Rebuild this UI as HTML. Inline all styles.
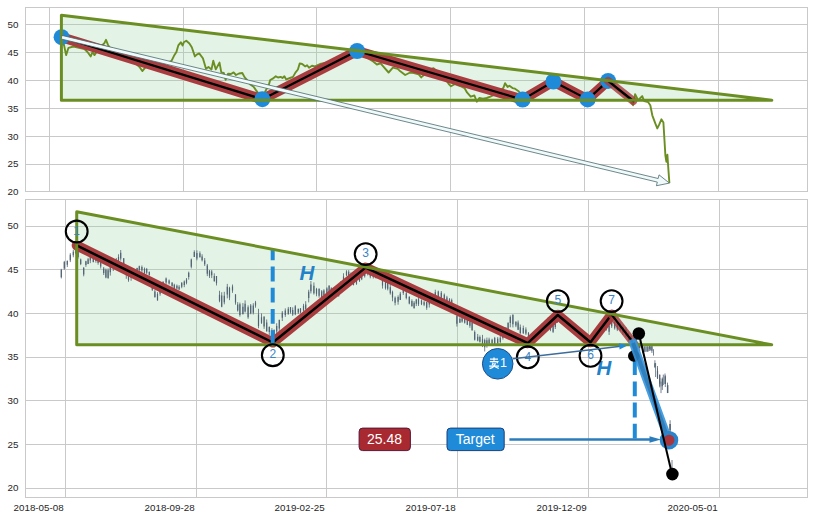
<!DOCTYPE html><html><head><meta charset="utf-8"><style>html,body{margin:0;padding:0;background:#fff;width:813px;height:520px;overflow:hidden}svg{display:block}</style></head><body>
<svg width="813" height="520" viewBox="0 0 813 520" font-family='"Liberation Sans", sans-serif'>
<rect width="813" height="520" fill="#fff"/>
<path d="M25.5 164.5H807.5M25.5 136.5H807.5M25.5 108.5H807.5M25.5 80.5H807.5M25.5 52.5H807.5M25.5 24.5H807.5M49.5 7.5V191.5M183.5 7.5V191.5M316.5 7.5V191.5M450.5 7.5V191.5M584.5 7.5V191.5M718.5 7.5V191.5" stroke="#c9c9c9" stroke-width="1" fill="none"/>
<rect x="25.5" y="7.5" width="782" height="184" fill="none" stroke="#c9c9c9" stroke-width="1"/>
<text x="18.5" y="191.8" font-size="9.8" fill="#262626" text-anchor="end" dominant-baseline="central">20</text>
<text x="18.5" y="163.97" font-size="9.8" fill="#262626" text-anchor="end" dominant-baseline="central">25</text>
<text x="18.5" y="136.13" font-size="9.8" fill="#262626" text-anchor="end" dominant-baseline="central">30</text>
<text x="18.5" y="108.3" font-size="9.8" fill="#262626" text-anchor="end" dominant-baseline="central">35</text>
<text x="18.5" y="80.47" font-size="9.8" fill="#262626" text-anchor="end" dominant-baseline="central">40</text>
<text x="18.5" y="52.63" font-size="9.8" fill="#262626" text-anchor="end" dominant-baseline="central">45</text>
<text x="18.5" y="24.8" font-size="9.8" fill="#262626" text-anchor="end" dominant-baseline="central">50</text>
<polygon points="61.4,15.3 771.8,100.2 61.4,100.2" fill="rgba(150,212,160,0.27)" stroke="none"/>
<polyline points="61.6,37.2 64.2,45.9 66.1,55.1 68.5,47.8 73.5,46.5 78,47.5 84.5,49 87.5,52 90.7,56.4 92.5,52 94.4,55.1 98,50 101,46 104.2,43.5 106,39.8 107.9,44.7 112,51 116,53 120,55 125,57 130,60 135,63 139.9,67.4 142.3,71.1 145.4,67.4 150,66 155,65 160,66 165,64 171.5,60.8 174,55.8 176.4,52.1 178.3,45.4 180.8,42.3 182.6,45.4 183.8,42.3 186.3,40.8 189.4,43.5 191.8,47.2 194.9,56.4 196.7,54.6 199.2,53.4 202.9,58.3 206,68.7 208.5,67 211.5,69.4 213.3,60.8 215.8,69.4 219.5,62.6 221.3,72.4 223.8,73 225.6,79.8 228.1,73.7 231,74 233.6,72.4 236,75 239,73.5 242.3,73 244.7,77.4 247,80 249.9,84.3 253.6,86.7 256.1,90.4 259,94 262,97 265,92 269,84.3 270.2,80 272.7,78.7 275.8,76.3 278,77.5 280.7,76.9 282.5,78 284.4,76.3 286.2,79.4 290,78 293,76.9 295.4,72.6 297.9,69.5 299.7,63.4 302.2,64 305.3,66.4 307.1,65.2 309,67.7 312,65.8 315,66.4 320,64 325,63 330,62 335,60 340,58 345,56 350,54 355,52 360,54 365,57 369,59 373.2,61.4 376.9,64.5 380.6,63.3 384.3,67.6 388.6,72.5 392.9,67.6 397.8,68.8 400.3,71.3 405.2,75 410.1,72.5 414,73 418.7,74.4 421.2,77.4 425,74 429,70 433.5,68.2 438,72 442,76 446,80 449.1,84.4 451,86.3 455,84 460,86 464.5,88.1 467,92.4 470.7,96.7 474.4,95.5 476.8,101.7 479.3,98 483,98.6 486.7,98 490.4,96.7 494,95 498,92 503.3,88.1 505.1,83.2 507.6,86.9 509.4,85.7 512.5,88.1 515,88.7 518.6,91.2 522,96 526,95 530,92 535,90 540,88 545,86 550,84 553,82 557,84 562,88 567,91 572,94 577,96 582,98 587,99 592,96 597,92 602,88 606,84 609,82 613,86 618,90 623,94 628,98 631,102 633.1,105.2 635.1,94.1 638.1,100.2 642.2,96.1 644.2,101.2 648.2,102.2 650.3,105.2 652.3,115.3 655.3,123.4 657.3,128.4 659.3,124.4 661.4,119.3 663.4,122.4 665.4,155.7 666.4,161.8 667.4,154.7 668.4,169.8 669.4,183" fill="none" stroke="#6b8e23" stroke-width="1.9" stroke-linejoin="round"/>
<polyline points="61.6,37.2 262.4,99.2 357.1,51 522.6,99.6 553.4,81.5 587.6,99.4 608.1,80.9" fill="none" stroke="#a93c3f" stroke-width="10" stroke-linejoin="round" stroke-linecap="round"/>
<polyline points="61.6,37.2 262.4,99.2 357.1,51 522.6,99.6 553.4,81.5 587.6,99.4 608.1,80.9" fill="none" stroke="#000" stroke-width="2.2" stroke-linejoin="round" stroke-linecap="round"/>
<circle cx="61.6" cy="37.2" r="8" fill="#1f8bd8"/>
<circle cx="262.4" cy="99.2" r="8" fill="#1f8bd8"/>
<circle cx="357.1" cy="51" r="8" fill="#1f8bd8"/>
<circle cx="522.6" cy="99.6" r="8" fill="#1f8bd8"/>
<circle cx="553.4" cy="81.5" r="8" fill="#1f8bd8"/>
<circle cx="587.6" cy="99.4" r="8" fill="#1f8bd8"/>
<circle cx="608.1" cy="80.9" r="8" fill="#1f8bd8"/>
<line x1="608.1" y1="80.9" x2="633.3" y2="101" stroke="#a93c3f" stroke-opacity="0.82" stroke-width="8" stroke-linecap="round"/>
<line x1="608.1" y1="80.9" x2="633.3" y2="101" stroke="#000" stroke-width="2.4" stroke-linecap="round"/>
<polygon points="61.4,15.3 771.8,100.2 61.4,100.2" fill="none" stroke="#6b8e23" stroke-width="3" stroke-linejoin="round"/>
<polygon points="61.17,39 657.3,182.1 656.42,185.74 669.4,183.1 659.04,174.85 658.16,178.5 62.03,35.4" fill="#f0fafa" stroke="#4a6a6e" stroke-width="0.8" stroke-linejoin="miter"/>
<path d="M25.5 488.5H807.5M25.5 444.5H807.5M25.5 400.5H807.5M25.5 357.5H807.5M25.5 313.5H807.5M25.5 269.5H807.5M25.5 226.5H807.5M65.5 199.5V497.5M196.5 199.5V497.5M326.5 199.5V497.5M457.5 199.5V497.5M588.5 199.5V497.5M719.5 199.5V497.5" stroke="#c9c9c9" stroke-width="1" fill="none"/>
<rect x="25.5" y="199.5" width="782" height="298" fill="none" stroke="#c9c9c9" stroke-width="1"/>
<text x="18.5" y="487.8" font-size="9.8" fill="#262626" text-anchor="end" dominant-baseline="central">20</text>
<text x="18.5" y="444.1" font-size="9.8" fill="#262626" text-anchor="end" dominant-baseline="central">25</text>
<text x="18.5" y="400.4" font-size="9.8" fill="#262626" text-anchor="end" dominant-baseline="central">30</text>
<text x="18.5" y="356.7" font-size="9.8" fill="#262626" text-anchor="end" dominant-baseline="central">35</text>
<text x="18.5" y="313" font-size="9.8" fill="#262626" text-anchor="end" dominant-baseline="central">40</text>
<text x="18.5" y="269.3" font-size="9.8" fill="#262626" text-anchor="end" dominant-baseline="central">45</text>
<text x="18.5" y="225.6" font-size="9.8" fill="#262626" text-anchor="end" dominant-baseline="central">50</text>
<text x="63.7" y="507.6" font-size="9.8" fill="#262626" text-anchor="end" dominant-baseline="central">2018-05-08</text>
<text x="194.7" y="507.6" font-size="9.8" fill="#262626" text-anchor="end" dominant-baseline="central">2018-09-28</text>
<text x="324.7" y="507.6" font-size="9.8" fill="#262626" text-anchor="end" dominant-baseline="central">2019-02-25</text>
<text x="455.7" y="507.6" font-size="9.8" fill="#262626" text-anchor="end" dominant-baseline="central">2019-07-18</text>
<text x="586.7" y="507.6" font-size="9.8" fill="#262626" text-anchor="end" dominant-baseline="central">2019-12-09</text>
<text x="717.7" y="507.6" font-size="9.8" fill="#262626" text-anchor="end" dominant-baseline="central">2020-05-01</text>
<polygon points="76.7,211.7 771.7,344.8 76.7,344.8" fill="rgba(150,212,160,0.27)" stroke="none"/>
<path d="M61.3 268.86V278.45M64.3 260.86V269.75M67.3 260.39V267.09M70.3 253.16V262.1M73.3 249.76V257.28M75.5 243.16V253.87M78.1 246.49V258.63M80.7 258.59V265.11M83.7 266.99V276.33M85.9 260.79V266.85M88.1 257.82V264.11M90.3 254.37V263.13M93.3 256.2V262.42M95.9 257.4V262.7M98.1 258.65V264.72M100.7 261.62V268.52M103.7 266.98V274.99M105.9 268.51V278.27M108.1 268.41V278.82M110.3 266.26V275.59M113.3 262.07V271.01M116.3 257.96V265.37M118.5 254.3V263.66M120.7 250.01V260.67M123.7 258.08V270.14M126.3 268.08V278.75M128.5 273.11V281.79M131.1 271.65V280.8M134.1 270.63V277.94M137.1 267.76V275.3M139.3 265.67V273M141.9 265.46V272.46M144.5 267.54V273.92M146.7 267.98V274.08M149.3 271.42V275.74M152.3 286.56V290.95M154.9 289.78V297.78M157.5 292.17V300.48M160.1 289.8V295.75M163.1 281.37V288.99M166.1 277.46V284.27M169.1 279.49V284.51M172.1 282.05V286.9M174.3 283.74V289.09M176.9 284.53V289.27M179.1 285.16V289.99M181.7 282.27V288.2M184.3 280.46V287.16M186.5 278.03V284.35M188.7 271.63V279.62M191.3 258.6V268.39M194.3 250.33V256.88M196.9 250.36V260.32M199.9 251.33V257.82M202.1 254.24V261.43M204.7 258.02V266M207.3 263.98V276.14M209.5 269.97V277.94M211.7 269.95V278.08M214.3 273.35V281.57M216.5 276.07V285.47M219.5 290.76V302.25M221.7 292.25V307.26M224.3 291.84V304.3M227.3 283.9V298.37M229.5 286.76V300.14M232.5 284.5V292.87M235.5 294.16V304.7M237.7 302.13V311.58M239.9 302.6V316.66M242.9 303.08V314.63M245.1 300.38V312.48M248.1 305.36V318.81M250.7 304V314.28M253.3 303.22V314.44M255.5 300.88V307.68M258.5 308.81V328.28M261.5 313.41V323.9M264.1 316.18V328.86M266.7 319.48V331.28M269.3 326.41V334.9M271.9 328.13V340.26M274.1 329.35V339.3M276.7 323.22V334.19M279.3 319.94V331.68M282.3 311.05V321.01M285.3 308.35V316.89M288.3 306.94V314.53M290.5 307.06V313.66M292.7 307.39V315.92M295.3 305.08V315.17M298.3 308.71V314.03M300.5 308.07V313.38M303.5 303.83V311.56M305.7 301.18V310.75M308.7 289.76V302.37M310.9 280.98V293.46M313.9 282.44V294.6M316.5 287.89V296.27M319.1 288.44V297.7M321.7 290.06V297.97M323.9 289.19V295.43M326.9 287.3V296.08M329.1 285.18V294.17M331.3 287.22V296.43M333.9 288.72V297.91M336.5 289.47V296.98M338.7 288.05V296.77M340.9 281V292.45M343.5 273.28V282.14M346.5 270.19V276.27M348.7 270.14V277.84M350.9 272.49V280.97M353.5 276.01V285.44M356.5 278.19V284.83M359.5 273.71V282.03M361.7 272.11V280.13M364.7 270.12V277.59M367.7 266.8V275.45M370.3 268.8V278.3M373.3 270.14V278.54M375.9 270.09V278.08M378.1 267.85V275.24M380.3 269.44V276.53M382.5 277.67V288.55M385.5 281.46V289.62M387.7 281V290.39M390.3 284.31V294.64M392.5 290.67V301.25M395.1 296.4V305.37M398.1 295.37V304.7M400.3 291.93V299.75M403.3 287.71V294.91M406.3 290.74V299.38M409.3 296.13V304.32M411.9 299.32V306.49M414.1 301.14V308.48M416.3 298.87V306.05M418.5 297.21V305.97M421.5 299.41V305.11M424.1 300.6V306.13M426.7 302.04V309.83M429.3 298.38V307.53M432.3 293.92V301.94M435.3 289.71V297.93M438.3 290.65V300.07M441.3 291.01V299.62M444.3 293.48V301.17M446.9 295.86V303.6M449.5 298.09V305.25M451.7 298.57V305.06M453.9 304.33V314.07M456.9 314.51V326.56M459.9 317.16V322.81M462.1 315.74V322.67M464.7 317.68V323.57M467.3 318.54V325.08M469.9 318.98V327.81M472.1 320.25V330.68M474.7 330.37V340.47M477.7 333.99V341.32M479.9 335.45V342.58M482.5 334.88V347.05M484.7 338.59V351.46M486.9 337.59V347.66M489.1 337.7V344.73M492.1 338.72V345.99M494.7 336.9V345.12M497.7 337.14V343.52M500.3 334.58V343.41M502.9 329.64V339.67M505.9 327.47V334.81M508.1 322.18V330.99M510.3 315.38V327.26M512.9 314.42V327.41M515.9 321.36V327.15M518.1 320.46V330.12M520.3 324.53V333.78M523.3 325.64V333.84M525.9 327.32V334.88M528.5 332.12V340.86M531.1 334.45V342.69M534.1 332.61V340.7M536.7 329.93V339.3M539.3 326.75V334.89M542.3 323.28V332.73M545.3 320.24V328.89M548.3 317.1V325.53M550.5 323.25V331.17M553.1 322.65V332.95M555.3 319.95V329M557.5 314.71V322.94M559.7 313.78V320.78M561.9 313.51V323.12M564.1 315.78V325.39M566.7 318.27V327.57M568.9 320.1V329.01M571.5 321.97V330.33M574.1 324.44V334.06M577.1 327.47V336.18M579.3 329.56V337.11M582.3 332.13V339.68M584.5 334.32V341.67M587.1 334.11V344.08M589.3 336.13V345.43M592.3 336V344.75M594.9 333.33V340.64M597.5 328.47V337.26M600.5 325.69V334.09M603.5 320.15V329.55M606.5 320.08V330.53M609.1 323.46V334.94M611.7 319.9V327.98M614.7 321.39V329.6M617.3 320.99V331.06M620.3 322.51V331.28M622.9 325.28V335M625.9 327.21V337.21M628.5 332.75V340.71M631.1 335.45V344.32M634.1 340.33V348.41M636.7 342.9V352.26M639.7 342.78V350.99M642.7 344.52V353.32M644.9 344.01V352.11M647.1 345.61V352.03M649.7 344.91V350.99M651.9 345.76V352.91M654.9 360.25V368.13M657.5 368.37V378.68M659.7 374.51V387.35M662.3 377.48V389.97M665.3 375.3V387.03M667.5 382.63V393.05M670.1 420.21V432.21M648.3 346.4V351.5M650.6 346.4V350.4M653.5 349.2V355.6M655.6 363V377M657.5 366V379M659.8 378V386.2M661 381.6V393.1M663.3 374.6V385M665 373.5V383.9M667.9 385V393.1M670 424V433M672 460V470" stroke="#506273" stroke-width="0.8" fill="none"/>
<path d="M61.3 269.85V277.27M64.3 261.99V268.49M67.3 261.06V264.78M70.3 254.87V260.13M73.3 251.87V255.29M75.5 245.88V252.94M78.1 249.24V256.9M80.7 259.45V263.88M83.7 267.89V274.4M85.9 261.14V265.07M88.1 259.15V264.09M90.3 256.37V260.47M93.3 257.74V261.91M95.9 258.7V261.12M98.1 260.24V263M100.7 262.34V266.53M103.7 268.39V273.07M105.9 269.8V277.52M108.1 270.16V277.95M110.3 266.73V272.37M113.3 263.31V267.57M116.3 259.79V264.08M118.5 256.97V263.06M120.7 252.87V258.52M123.7 258.31V267.71M126.3 268.96V275.33M128.5 274.09V280.24M131.1 272.81V277.87M134.1 272.36V276.88M137.1 267.96V273.77M139.3 266.37V270.3M141.9 266.93V270.41M144.5 268.69V273.1M146.7 268.89V272.65M149.3 272.1V275.01M152.3 287.65V289.73M154.9 291.44V297.1M157.5 294.07V300.43M160.1 290.05V293.77M163.1 281.69V286.75M166.1 278.49V282.55M169.1 280.53V283.6M172.1 282.85V286.05M174.3 284.74V288.61M176.9 285.84V288.47M179.1 286.82V289.58M181.7 282.67V286.72M184.3 281.49V284.98M186.5 279.61V282.76M188.7 272.65V277.01M191.3 259.52V266.78M194.3 252.12V256.99M196.9 252.94V258.39M199.9 253.33V256.96M202.1 256.56V260.27M204.7 260.46V264.18M207.3 265.48V273.68M209.5 270.73V275.64M211.7 271.46V275.23M214.3 276.11V281.26M216.5 276V283.21M219.5 294.86V300.82M221.7 295.41V306.78M224.3 295.65V302.15M227.3 286.79V294.53M229.5 287.87V297.6M232.5 286.53V290.54M235.5 294.47V302.61M237.7 304.38V310.39M239.9 304.33V315.09M242.9 306.82V314.01M245.1 303.73V311.54M248.1 307.31V317.34M250.7 305.59V313.35M253.3 305.52V312.63M255.5 302.49V305.56M258.5 314.56V326.05M261.5 317.34V322.68M264.1 316.74V326.54M266.7 322.41V331.44M269.3 326.92V331.99M271.9 330.3V335.86M274.1 330.07V337.06M276.7 326.04V331.44M279.3 319.69V328.58M282.3 312.63V317.67M285.3 310.49V314.97M288.3 308.75V314.14M290.5 307.25V312.35M292.7 309.96V314.51M295.3 306.33V314.19M298.3 308.76V312.43M300.5 308.55V312.46M303.5 305.71V310.54M305.7 304.52V308.91M308.7 291.71V298.03M310.9 284.44V291.29M313.9 285.76V293.2M316.5 288.95V293.76M319.1 288.73V295.64M321.7 291.21V297.32M323.9 290.49V295.26M326.9 288.45V295.29M329.1 285.73V292.31M331.3 288.18V294.95M333.9 290.75V297.35M336.5 290.04V295.51M338.7 289.8V295.67M340.9 282.57V288.93M343.5 276.44V281.64M346.5 271.58V275.15M348.7 271.68V275.84M350.9 274.19V278.04M353.5 279.09V285M356.5 279.79V283.81M359.5 277.01V280.88M361.7 273.21V279.23M364.7 271.69V276.15M367.7 267.85V273.21M370.3 272.14V276.51M373.3 271.06V277.06M375.9 271.97V278.34M378.1 268.4V273.59M380.3 271.26V276.46M382.5 278.26V285.45M385.5 282.13V288.26M387.7 282.36V288.78M390.3 287.25V293.21M392.5 291.91V297.56M395.1 297.69V302.85M398.1 297.01V301.83M400.3 293.71V299.92M403.3 289.19V293.11M406.3 293.36V298.09M409.3 296.94V303.43M411.9 301.09V306.18M414.1 302.85V308.27M416.3 299.6V303.81M418.5 299.25V304.19M421.5 300.46V304.34M424.1 302.14V304.79M426.7 301.92V307.67M429.3 300.23V304.61M432.3 294.21V300.3M435.3 292.32V296.36M438.3 291.48V297.99M441.3 292.64V297.47M444.3 294.79V299.23M446.9 297.46V303.1M449.5 299.15V304.47M451.7 299.99V304.85M453.9 307.4V313.72M456.9 315.9V323.77M459.9 318.66V322.66M462.1 318.18V321.54M464.7 318.55V322.77M467.3 319.57V324.73M469.9 321.61V325.81M472.1 323.01V330.13M474.7 331.88V339.81M477.7 336.8V340.38M479.9 337.01V341.81M482.5 339.32V346.04M484.7 340.12V347.27M486.9 340.27V344.86M489.1 339.38V343.42M492.1 339.74V343.59M494.7 338.12V344.52M497.7 338.7V343.55M500.3 337.83V342.08M502.9 330.65V337.97M505.9 327.5V332.83M508.1 323.08V329.83M510.3 317.1V323.1M512.9 314.71V324.24M515.9 321.8V325.49M518.1 322.62V329.83M520.3 327.3V333.17M523.3 327.93V333.31M525.9 329.56V333.47M528.5 332.82V338.36M531.1 337.14V342.45M534.1 332.91V338.49M536.7 330.16V336.95M539.3 327.34V333.03M542.3 325.44V332.52M545.3 321.85V326.63M548.3 318.45V324.46M550.5 324.01V329.6M553.1 325.89V331.72M555.3 322.58V327.07M557.5 316V322.11M559.7 314.35V319.93M561.9 313.55V321M564.1 317.28V322.91M566.7 319.32V325.5M568.9 322.07V326.14M571.5 322.72V328.11M574.1 325.07V331.46M577.1 329.33V334.32M579.3 331.53V337.4M582.3 333.24V339.14M584.5 335.55V340.08M587.1 336.11V341.85M589.3 338.49V343.46M592.3 339.08V343.82M594.9 333.82V339.22M597.5 328.78V335.29M600.5 328.12V333.09M603.5 322.49V329.5M606.5 321.98V326.74M609.1 326.06V331.69M611.7 320.91V326.15M614.7 322.28V328.24M617.3 323.4V329.39M620.3 325.51V330.32M622.9 327.07V332.83M625.9 329.44V335.1M628.5 335.4V339.13M631.1 336.2V342.53M634.1 340.73V346.76M636.7 346.45V351.01M639.7 343.64V348.01M642.7 345.4V352.03M644.9 346.42V351.67M647.1 346.53V351.4M649.7 345.94V349.32M651.9 346.29V350.84M654.9 363.31V366.95M657.5 370.66V378.1M659.7 374.79V383.68M662.3 378.66V386.34M665.3 376.14V384.02M667.5 385.45V393.12M670.1 423.94V429.9" stroke="#506273" stroke-width="1.2" fill="none"/>
<polyline points="76.7,245.4 272.8,342.5 365.6,267.6 527.8,343.2 557.8,315 590.5,342.3 611.6,314.6" fill="none" stroke="#a93c3f" stroke-width="10" stroke-linejoin="round" stroke-linecap="round"/>
<polyline points="76.7,245.4 272.8,342.5 365.6,267.6 527.8,343.2 557.8,315 590.5,342.3 611.6,314.6" fill="none" stroke="#000" stroke-width="2.5" stroke-linejoin="round" stroke-linecap="round"/>
<line x1="611.6" y1="314.6" x2="635.5" y2="345.5" stroke="#a93c3f" stroke-opacity="0.82" stroke-width="8" stroke-linecap="round"/>
<line x1="611.6" y1="314.6" x2="635.5" y2="345.5" stroke="#000" stroke-width="2.2" stroke-linecap="round"/>
<line x1="272.7" y1="345" x2="272.7" y2="249.2" stroke="#1f8bd8" stroke-width="4" stroke-dasharray="14.8 6.4"/>
<line x1="634.8" y1="339" x2="634.8" y2="439.5" stroke="#1f8bd8" stroke-width="4" stroke-dasharray="14.8 6.4"/>
<text x="306.9" y="279.5" font-size="20.5" font-weight="bold" font-style="italic" fill="#2381c9" text-anchor="middle">H</text>
<text x="603.9" y="374.5" font-size="20.5" font-weight="bold" font-style="italic" fill="#2381c9" text-anchor="middle">H</text>
<polygon points="76.7,211.7 771.7,344.8 76.7,344.8" fill="none" stroke="#6b8e23" stroke-width="3" stroke-linejoin="round"/>
<circle cx="76.7" cy="231.5" r="10.9" fill="none" stroke="#000" stroke-width="2.1"/>
<text x="76.7" y="230.7" font-size="12" fill="#3a84c6" text-anchor="middle" dominant-baseline="central">1</text>
<circle cx="272.8" cy="355.2" r="10.9" fill="none" stroke="#000" stroke-width="2.1"/>
<text x="272.8" y="354.4" font-size="12" fill="#3a84c6" text-anchor="middle" dominant-baseline="central">2</text>
<circle cx="365.65" cy="254.1" r="10.9" fill="none" stroke="#000" stroke-width="2.1"/>
<text x="365.65" y="253.3" font-size="12" fill="#3a84c6" text-anchor="middle" dominant-baseline="central">3</text>
<circle cx="527.8" cy="357.3" r="10.9" fill="none" stroke="#000" stroke-width="2.1"/>
<text x="527.8" y="356.5" font-size="12" fill="#3a84c6" text-anchor="middle" dominant-baseline="central">4</text>
<circle cx="557.8" cy="301.1" r="10.9" fill="none" stroke="#000" stroke-width="2.1"/>
<text x="557.8" y="300.3" font-size="12" fill="#3a84c6" text-anchor="middle" dominant-baseline="central">5</text>
<circle cx="590.5" cy="355.8" r="10.9" fill="none" stroke="#000" stroke-width="2.1"/>
<text x="590.5" y="355" font-size="12" fill="#3a84c6" text-anchor="middle" dominant-baseline="central">6</text>
<circle cx="611.6" cy="301.1" r="10.9" fill="none" stroke="#000" stroke-width="2.1"/>
<text x="611.6" y="300.3" font-size="12" fill="#3a84c6" text-anchor="middle" dominant-baseline="central">7</text>
<line x1="513" y1="358.8" x2="621" y2="346.2" stroke="#3b6c9a" stroke-width="1.6"/>
<polygon points="619,343.2 627.5,345.4 619.6,349.4" fill="#1f8bd8"/>
<circle cx="497.7" cy="363.8" r="15.3" fill="#1f8bd8" stroke="#1d4f8a" stroke-width="1"/>
<g transform="translate(489,357.5)" stroke="#fff" stroke-width="1.3" fill="none" stroke-linecap="butt"><path d="M1 1.6H9M5 0V3.2"/><path d="M0.8 4.2H8.8L8 5.8"/><path d="M3.2 5.2L4.6 6.2M3 6.8L4.4 7.8"/><path d="M0.2 8.6H10"/><path d="M6.2 5.2C6.2 8.5 4 10.2 0.6 11"/><path d="M5.6 9L9.8 11"/></g>
<text x="503.4" y="363.2" font-size="12.5" fill="#fff" text-anchor="middle" dominant-baseline="central">1</text>
<circle cx="633.8" cy="356" r="5.8" fill="#000"/>
<line x1="633" y1="343" x2="668.6" y2="440.2" stroke="#3896dc" stroke-opacity="0.92" stroke-width="8" stroke-linecap="round"/>
<line x1="633" y1="343" x2="668.6" y2="440.2" stroke="#1a5f9a" stroke-opacity="0.5" stroke-width="4"/>
<circle cx="638.8" cy="333.5" r="6.3" fill="#000"/>
<circle cx="672.4" cy="474.1" r="6.3" fill="#000"/>
<circle cx="669" cy="440.2" r="7.4" fill="#a8363e" stroke="#2a85cc" stroke-width="3.8"/>
<line x1="638.8" y1="333.5" x2="672" y2="474.1" stroke="#000" stroke-width="2"/>
<line x1="509.4" y1="439.5" x2="651" y2="439.5" stroke="#2b7cbc" stroke-width="2.3"/>
<polygon points="649.5,436.3 661,439.5 649.5,442.7" fill="#2b7cbc"/>
<rect x="359.1" y="428.1" width="51.3" height="22.5" rx="3.5" fill="#a8292f" stroke="#55193a" stroke-width="1"/>
<text x="384.5" y="439.4" font-size="14" fill="#fff" text-anchor="middle" dominant-baseline="central">25.48</text>
<rect x="447" y="428.1" width="57.2" height="22.5" rx="3.5" fill="#1f8bd8" stroke="#1b3f7a" stroke-width="1"/>
<text x="475.3" y="439.4" font-size="14" fill="#fff" text-anchor="middle" dominant-baseline="central">Target</text>
</svg></body></html>
